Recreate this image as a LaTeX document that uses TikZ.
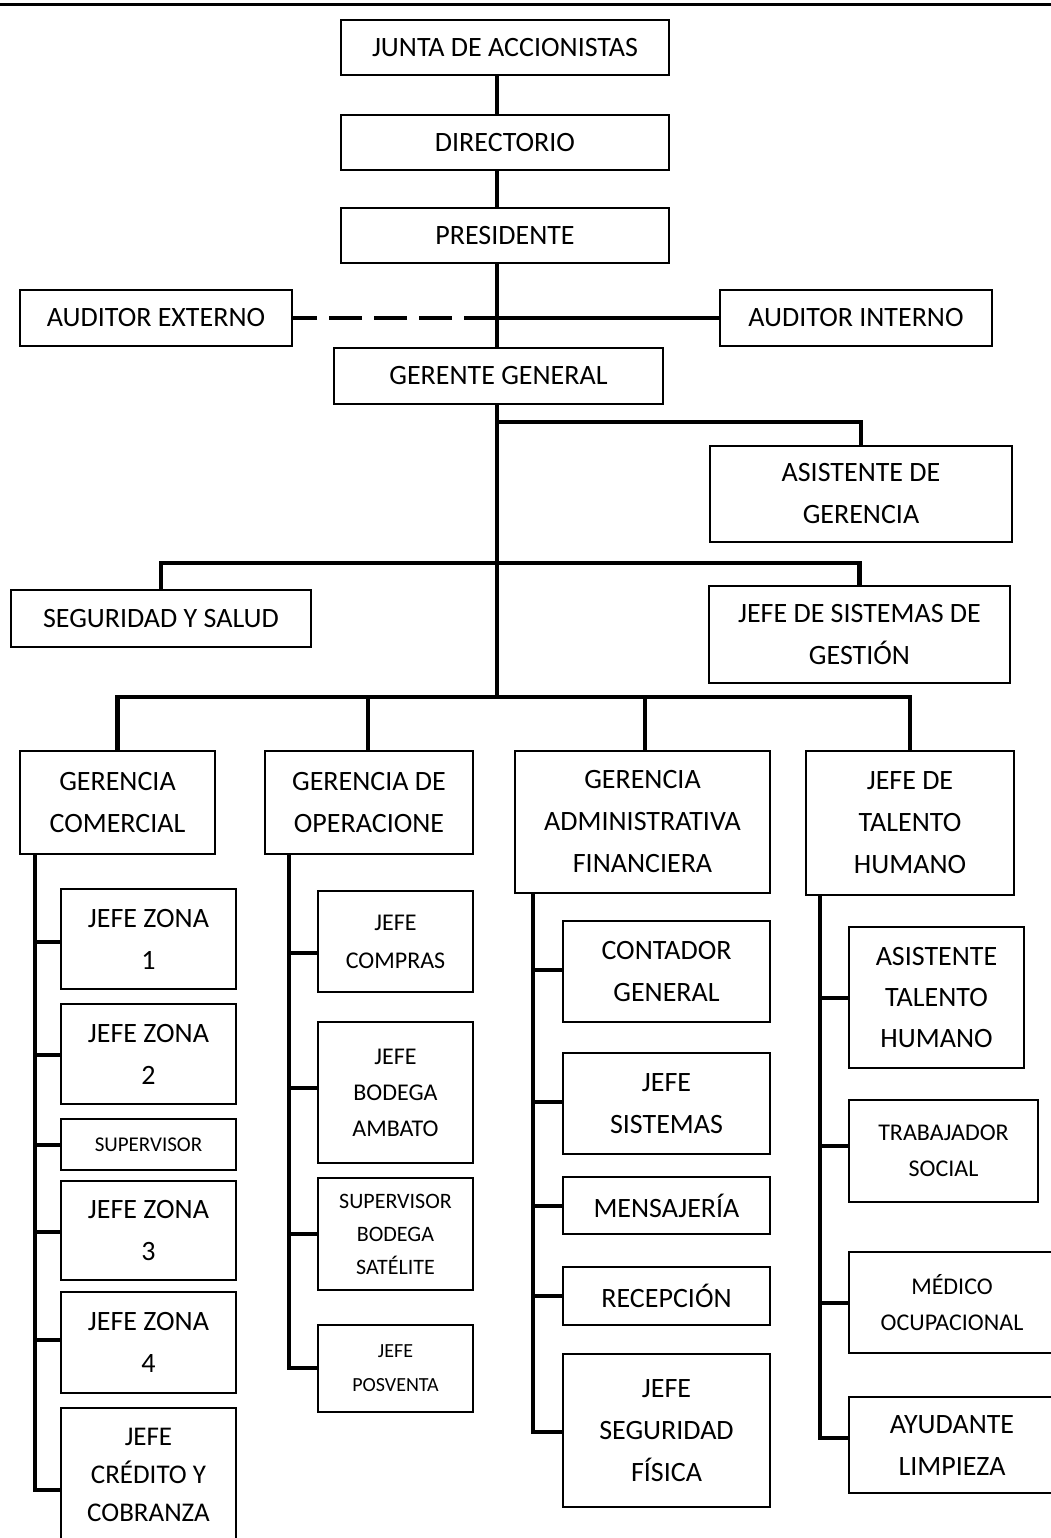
\documentclass[tikz,border=0pt]{standalone}
\usepackage{fontspec}
\setmainfont{Carlito}
\newcommand\fsz[2]{\fontsize{#1}{#2}\selectfont}
% \bx{name}{x1}{y1}{x2}{y2}{options}{text}
\newcommand\bx[7]{\node[box,#6,minimum width={#4-#2},minimum height={#5-#3}] (#1) at ({(#2+#4)/2},{(#3+#5)/2}) {#7};}
% \stub{x}{y}{node}
\newcommand\stub[3]{\coordinate (stubpt) at (#1,#2); \draw[conn] (stubpt) -- (stubpt -| #3.west);}
\begin{document}
\begin{tikzpicture}[x=1pt,y=-1pt,
  box/.style={draw, line width=1.6pt, inner sep=0pt, align=center, font=\fsz{28}{42}},
  conn/.style={line width=4.5pt},
]
\useasboundingbox (0,0) rectangle (1051,1538);
\coordinate (tl) at (0,5);
\coordinate (tr) at (1051,5);
\draw[line width=3pt] (tl) -- (tr);

% top levels
\bx{junta}{341}{20}{669}{75}{}{JUNTA DE ACCIONISTAS}
\bx{dir}{341}{115}{669}{170}{}{DIRECTORIO}
\bx{pres}{341}{208}{669}{263}{}{PRESIDENTE}
\bx{ae}{20}{290}{292}{346}{}{AUDITOR EXTERNO}
\bx{ai}{720}{290}{992}{346}{}{AUDITOR INTERNO}
\bx{gg}{334}{348}{663}{404}{}{GERENTE GENERAL}
\bx{asg}{710}{446}{1012}{542}{}{ASISTENTE DE\\GERENCIA}
\bx{seg}{11}{590}{311}{647}{}{SEGURIDAD Y SALUD}
\bx{jsg}{709}{586}{1010}{683}{}{JEFE DE SISTEMAS DE\\GESTIÓN}

% departments
\bx{gc}{20}{751}{215}{854}{}{GERENCIA\\COMERCIAL}
\bx{go}{265}{751}{473}{854}{}{GERENCIA DE\\OPERACIONE}
\bx{gaf}{515}{751}{770}{893}{}{GERENCIA\\ADMINISTRATIVA\\FINANCIERA}
\bx{jth}{806}{751}{1014}{895}{}{JEFE DE\\TALENTO\\HUMANO}

% comercial
\bx{jz1}{61}{889}{236}{989}{}{JEFE ZONA\\1}
\bx{jz2}{61}{1004}{236}{1104}{}{JEFE ZONA\\2}
\bx{sup}{61}{1119}{236}{1170}{font=\fsz{21}{30}}{SUPERVISOR}
\bx{jz3}{61}{1181}{236}{1280}{}{JEFE ZONA\\3}
\bx{jz4}{61}{1292}{236}{1393}{}{JEFE ZONA\\4}
\bx{jcc}{61}{1408}{236}{1541}{font=\fsz{27}{38}}{JEFE\\CRÉDITO Y\\COBRANZA}

% operaciones
\bx{jco}{318}{891}{473}{992}{font=\fsz{24}{38}}{JEFE\\COMPRAS}
\bx{jba}{318}{1022}{473}{1163}{font=\fsz{24}{36}}{JEFE\\BODEGA\\AMBATO}
\bx{sbs}{318}{1178}{473}{1290}{font=\fsz{22}{33}}{SUPERVISOR\\BODEGA\\SATÉLITE}
\bx{jpv}{318}{1325}{473}{1412}{font=\fsz{20}{34}}{JEFE\\POSVENTA}

% administrativa
\bx{cg}{563}{921}{770}{1022}{}{CONTADOR\\GENERAL}
\bx{js}{563}{1053}{770}{1154}{}{JEFE\\SISTEMAS}
\bx{men}{563}{1177}{770}{1234}{}{MENSAJERÍA}
\bx{rec}{563}{1267}{770}{1325}{}{RECEPCIÓN}
\bx{jsf}{563}{1354}{770}{1507}{}{JEFE\\SEGURIDAD\\FÍSICA}

% talento humano
\bx{ath}{849}{927}{1024}{1068}{font=\fsz{28}{41}}{ASISTENTE\\TALENTO\\HUMANO}
\bx{ts}{849}{1100}{1038}{1202}{font=\fsz{24}{36}}{TRABAJADOR\\SOCIAL}
\bx{mo}{849}{1252}{1055}{1353}{font=\fsz{24}{36}}{MÉDICO\\OCUPACIONAL}
\bx{al}{849}{1397}{1055}{1493}{}{AYUDANTE\\LIMPIEZA}

% trunk
\coordinate (tx) at (497,0);
\coordinate (aud) at (497,318);
\coordinate (b1) at (497,422);
\coordinate (b2) at (497,563);
\coordinate (b3) at (497,697);
\draw[conn] (junta.south -| tx) -- (dir.north -| tx);
\draw[conn] (dir.south -| tx) -- (pres.north -| tx);
\draw[conn] (pres.south -| tx) -- (gg.north -| tx);
\draw[conn] (aud) -- (ai.west);
\draw[conn, dash pattern=on 33pt off 12pt] (aud) -- (ae.east);
\draw[conn] (gg.south -| tx) -- (b3);
\draw[conn] (b1) -| (asg.north);
\draw[conn] (seg.north) |- (b2) -| (jsg.north);
\draw[conn] (gc.north) |- (b3) -| (jth.north);
\coordinate (dgo) at (368,697);
\coordinate (dgaf) at (645,697);
\draw[conn] (dgo) -- (dgo |- go.north);
\draw[conn] (dgaf) -- (dgaf |- gaf.north);

% comercial column
\coordinate (vc) at (35,1490);
\draw[conn] (gc.south -| vc) -- (vc) -- (vc -| jcc.west);
\stub{35}{942}{jz1}
\stub{35}{1055}{jz2}
\stub{35}{1145}{sup}
\stub{35}{1232}{jz3}
\stub{35}{1340}{jz4}

% operaciones column
\coordinate (vo) at (289,1368);
\draw[conn] (go.south -| vo) -- (vo) -- (vo -| jpv.west);
\stub{289}{953}{jco}
\stub{289}{1088}{jba}
\stub{289}{1234}{sbs}

% administrativa column
\coordinate (va) at (533,1432);
\draw[conn] (gaf.south -| va) -- (va) -- (va -| jsf.west);
\stub{533}{970}{cg}
\stub{533}{1102}{js}
\stub{533}{1206}{men}
\stub{533}{1296}{rec}

% talento column
\coordinate (vt) at (820,1438);
\draw[conn] (jth.south -| vt) -- (vt) -- (vt -| al.west);
\stub{820}{998}{ath}
\stub{820}{1146}{ts}
\stub{820}{1303}{mo}
\end{tikzpicture}
\end{document}
